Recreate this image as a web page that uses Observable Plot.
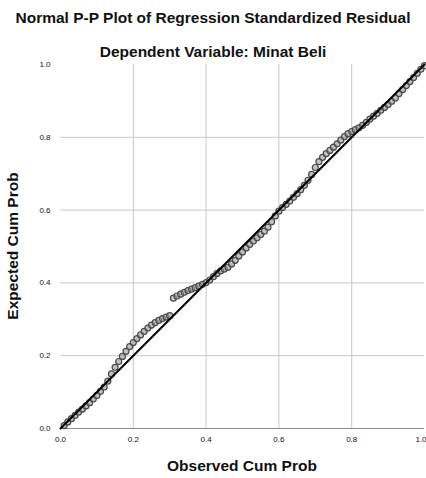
<!DOCTYPE html>
<html><head><meta charset="utf-8">
<script src="https://cdn.jsdelivr.net/npm/d3@7"></script>
<script src="https://cdn.jsdelivr.net/npm/@observablehq/plot@0.6"></script>
<style>
body{margin:0;background:#fff;font-family:"Liberation Sans",Arial,sans-serif;}
#wrap{position:relative;width:426px;height:478px;overflow:hidden;background:#fff}
#wrap svg{position:absolute;left:0;top:0}
.t{position:absolute;left:0;width:426px;text-align:center;font-weight:bold;color:#111;white-space:nowrap;line-height:1}
#ylab{position:absolute;left:13px;top:246px;transform:translate(-50%,-50%) rotate(-90deg);font-weight:bold;font-size:15.5px;color:#111;white-space:nowrap;line-height:1}
</style></head><body>
<div id="wrap"></div>
<script>
const title = "Normal P-P Plot of Regression Standardized Residual";
const subtitle = "Dependent Variable: Minat Beli";
const xLabel = "Observed Cum Prob";
const yLabel = "Expected Cum Prob";
const tickValues = [0, 0.2, 0.4, 0.6, 0.8, 1];
const tickLabels = ["0.0", "0.2", "0.4", "0.6", "0.8", "1.0"];
const gridValues = [0.2, 0.4, 0.6, 0.8];
const refLine = [0, 1];

const observed = [
0.01,0.02,0.03,0.04,0.05,0.06,0.07,0.08,0.09,0.10,
0.11,0.12,0.13,0.14,0.15,0.16,0.17,0.18,0.19,0.20,
0.21,0.22,0.23,0.24,0.25,0.26,0.27,0.28,0.29,0.30,
0.31,0.32,0.33,0.34,0.35,0.36,0.37,0.38,0.39,0.40,
0.41,0.42,0.43,0.44,0.45,0.46,0.47,0.48,0.49,0.50,
0.51,0.52,0.53,0.54,0.55,0.56,0.57,0.58,0.59,0.60,
0.61,0.62,0.63,0.64,0.65,0.66,0.67,0.68,0.69,0.70,
0.71,0.72,0.73,0.74,0.75,0.76,0.77,0.78,0.79,0.80,
0.81,0.82,0.83,0.84,0.85,0.86,0.87,0.88,0.89,0.90,
0.91,0.92,0.93,0.94,0.95,0.96,0.97,0.98,0.99,1.00];

const expected = [
0.008,0.018,0.027,0.036,0.045,0.053,0.062,0.071,0.081,0.091,
0.102,0.114,0.130,0.150,0.168,0.184,0.198,0.212,0.225,0.236,
0.247,0.257,0.267,0.276,0.284,0.291,0.297,0.302,0.306,0.310,
0.358,0.364,0.369,0.374,0.379,0.383,0.387,0.391,0.396,0.401,
0.408,0.417,0.426,0.433,0.438,0.443,0.452,0.462,0.474,0.485,
0.496,0.506,0.515,0.524,0.533,0.542,0.553,0.568,0.584,0.597,
0.607,0.616,0.625,0.635,0.645,0.656,0.668,0.682,0.698,0.717,
0.733,0.745,0.755,0.764,0.773,0.782,0.792,0.802,0.810,0.816,
0.821,0.826,0.833,0.841,0.850,0.858,0.866,0.874,0.882,0.890,
0.899,0.908,0.920,0.931,0.942,0.953,0.964,0.976,0.987,0.997];

const points = observed.map((o, i) => ({obs: o, exp: expected[i]}));
const fmt = d => tickLabels[tickValues.indexOf(d)] ?? "";
const innerTicks = tickValues.slice(0, -1);
const lastTick = tickValues.slice(-1);

const chart = Plot.plot({
  width: 426,
  height: 478,
  marginTop: 64,
  marginBottom: 50,
  marginLeft: 60,
  marginRight: 2,
  style: {fontFamily: "'Liberation Sans', Arial, sans-serif", background: "transparent", color: "#111"},
  x: {domain: [0, 1]},
  y: {domain: [0, 1]},
  marks: [
    Plot.gridX(gridValues, {stroke: "#c8c8c8", strokeOpacity: 1}),
    Plot.gridY(gridValues, {stroke: "#c8c8c8", strokeOpacity: 1}),
    Plot.ruleY([0], {stroke: "#8c8c8c", strokeWidth: 1}),
    Plot.axisX(innerTicks, {tickFormat: fmt, tickSize: 0, tickPadding: 8, fontSize: 8, label: null}),
    Plot.axisX(lastTick, {tickFormat: fmt, tickSize: 0, tickPadding: 8, fontSize: 8, label: null, textAnchor: "end", dx: 2}),
    Plot.axisY(tickValues, {tickFormat: fmt, tickSize: 0, tickPadding: 10, fontSize: 8, label: null}),
    Plot.dot(points, {x: "obs", y: "exp", r: 3, stroke: "#4a4a4a", strokeWidth: 1.2, fill: "#9a9a9a", fillOpacity: 0.6}),
    Plot.line(refLine, {x: d => d, y: d => d, stroke: "#000", strokeWidth: 2})
  ]
});

const wrap = document.getElementById("wrap");
wrap.appendChild(chart);
const mk = (id, cls, text, style) => {
  const d = document.createElement("div");
  if (id) d.id = id;
  if (cls) d.className = cls;
  d.textContent = text;
  if (style) d.setAttribute("style", style);
  wrap.appendChild(d);
};
mk("title", "t", title, "top:10px;font-size:15.5px;");
mk("sub", "t", subtitle, "top:44px;font-size:15.5px;");
mk("xlab", "t", xLabel, "top:458px;left:29px;font-size:15.5px;");
mk("ylab", null, yLabel, null);
</script>
</body></html>
